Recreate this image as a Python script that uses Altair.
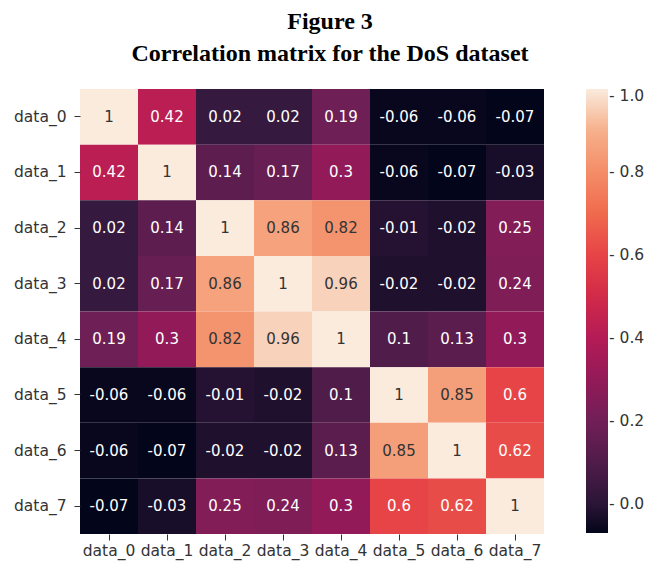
import altair as alt
import pandas as pd

labels = ["data_0", "data_1", "data_2", "data_3", "data_4", "data_5", "data_6", "data_7"]
row0 = [1, 0.42, 0.02, 0.02, 0.19, -0.06, -0.06, -0.07]
row1 = [0.42, 1, 0.14, 0.17, 0.3, -0.06, -0.07, -0.03]
row2 = [0.02, 0.14, 1, 0.86, 0.82, -0.01, -0.02, 0.25]
row3 = [0.02, 0.17, 0.86, 1, 0.96, -0.02, -0.02, 0.24]
row4 = [0.19, 0.3, 0.82, 0.96, 1, 0.1, 0.13, 0.3]
row5 = [-0.06, -0.06, -0.01, -0.02, 0.1, 1, 0.85, 0.6]
row6 = [-0.06, -0.07, -0.02, -0.02, 0.13, 0.85, 1, 0.62]
row7 = [-0.07, -0.03, 0.25, 0.24, 0.3, 0.6, 0.62, 1]
matrix = [row0, row1, row2, row3, row4, row5, row6, row7]
legend_ticks = [0.0, 0.2, 0.4, 0.6, 0.8, 1.0]

# rocket colormap stops
rocket_t = [0, 1/12, 3/12, 5/12, 7/12, 9/12, 11/12, 1]
rocket_c = ["#03051a", "#35193e", "#701f57", "#ad1759", "#e13342", "#f37651", "#f6b48f", "#faebdd"]
vmin, vmax = -0.07, 1.0
dom = [vmin + t * (vmax - vmin) for t in rocket_t]

records = []
for i, rl in enumerate(labels):
    for j, cl in enumerate(labels):
        v = matrix[i][j]
        records.append({"row": rl, "col": cl, "value": v, "label": f"{v:g}"})
df = pd.DataFrame(records)

base = alt.Chart(df)

rect = base.mark_rect().encode(
    x=alt.X("col:N", sort=labels, title=None,
            scale=alt.Scale(paddingInner=0, paddingOuter=0),
            axis=alt.Axis(labelAngle=0, labelFont="DejaVu Sans", labelFontSize=15.5,
                          labelColor="#333333", domain=False, tickSize=6,
                          tickColor="#333333", labelPadding=3)),
    y=alt.Y("row:N", sort=labels, title=None,
            scale=alt.Scale(paddingInner=0, paddingOuter=0),
            axis=alt.Axis(labelFont="DejaVu Sans", labelFontSize=15.5,
                          labelColor="#333333", domain=False, tickSize=6,
                          tickColor="#333333", labelPadding=8)),
    color=alt.Color("value:Q",
                    scale=alt.Scale(domain=dom, range=rocket_c, interpolate="rgb"),
                    legend=alt.Legend(title=None, gradientLength=444, gradientThickness=22,
                                      values=legend_ticks,
                                      labelExpr="'- ' + format(datum.value, '.1f')",
                                      labelFont="DejaVu Sans", labelFontSize=15.5,
                                      labelColor="#333333", offset=42, labelOffset=1,
                                      gradientStrokeWidth=0, padding=0)),
)

text = base.mark_text(font="DejaVu Sans", fontSize=15).encode(
    x=alt.X("col:N", sort=labels),
    y=alt.Y("row:N", sort=labels),
    text="label:N",
    color=alt.condition(alt.datum.value >= 0.7, alt.value("#333333"), alt.value("#ffffff")),
)

chart = alt.layer(rect, text).properties(
    width=464,
    height=445,
    autosize=alt.AutoSizeParams(type="none"),
    padding={"left": 72, "top": 81, "right": 105, "bottom": 28},
    title=alt.TitleParams(
        text=["Figure 3", "Correlation matrix for the DoS dataset"],
        font="Liberation Serif", fontSize=24, fontWeight="bold", color="#000000",
        anchor="middle", lineHeight=32, offset=23, dx=18,
    ),
).configure_view(stroke=None)

chart.save("out.html", embed_options={"renderer": "svg", "actions": False})
